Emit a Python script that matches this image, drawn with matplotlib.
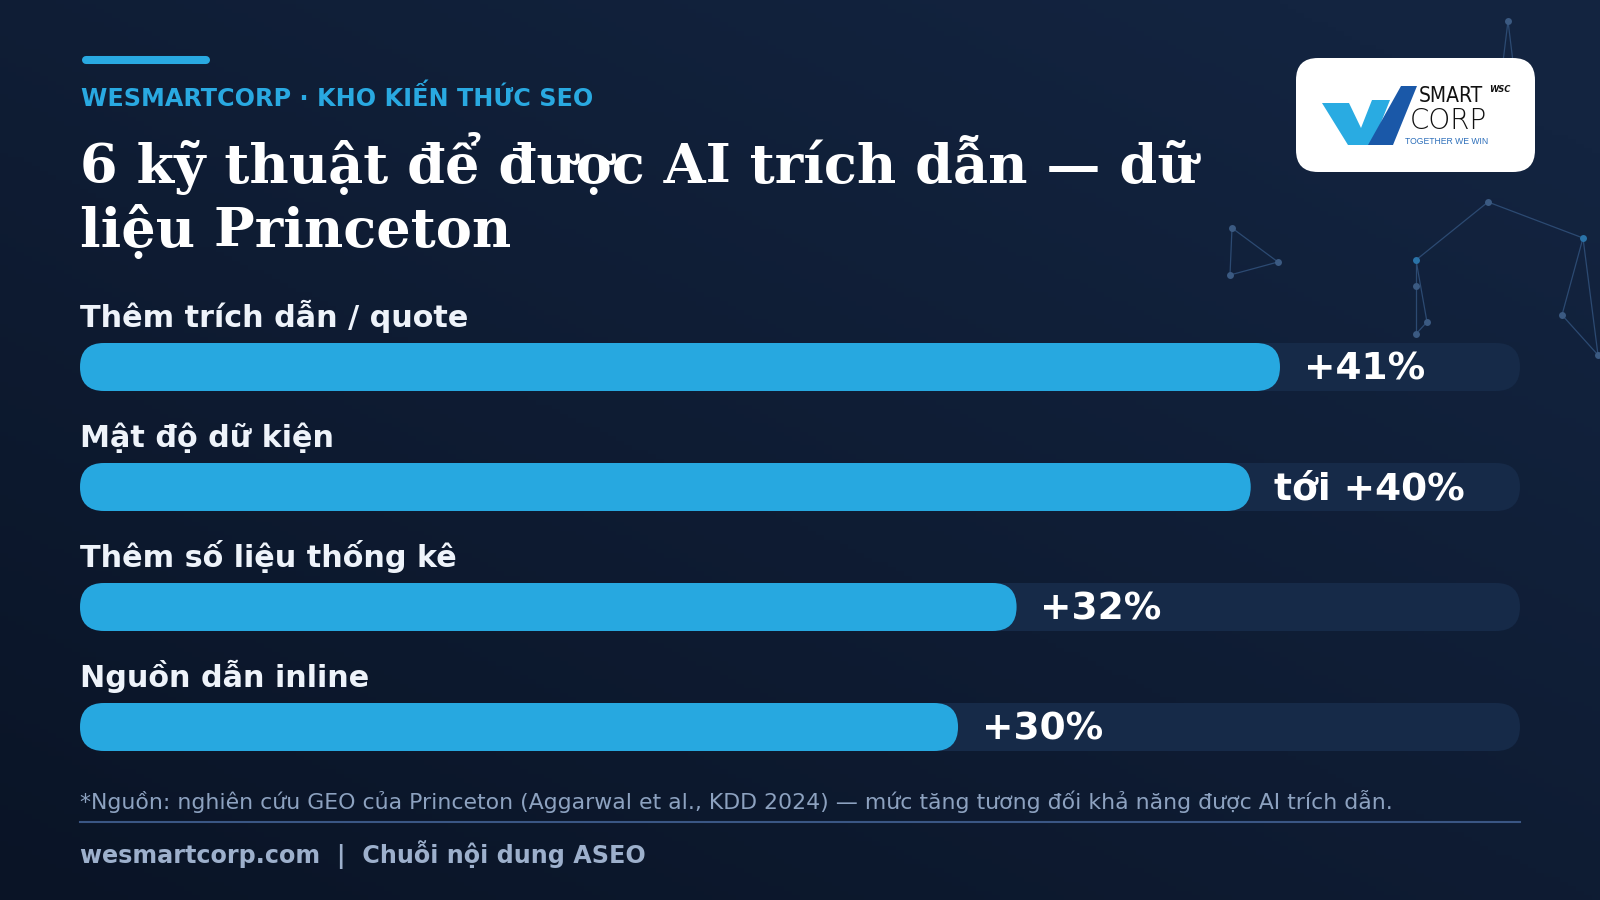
import numpy as np
import matplotlib.pyplot as plt
from matplotlib.patches import FancyBboxPatch, Polygon

# data
categories = ['Thêm trích dẫn / quote', 'Mật độ dữ kiện', 'Thêm số liệu thống kê', 'Nguồn dẫn inline']
values = [41, 40, 32, 30]
value_labels = ['+41%', 'tới +40%', '+32%', '+30%']

eyebrow = 'WESMARTCORP · KHO KIẾN THỨC SEO'
title = '6 kỹ thuật để được AI trích dẫn — dữ\nliệu Princeton'
footnote = ('*Nguồn: nghiên cứu GEO của Princeton (Aggarwal et al., KDD 2024) — '
            'mức tăng tương đối khả năng được AI trích dẫn.')
footer = 'wesmartcorp.com  |  Chuỗi nội dung ASEO'

# colours
bar_c = '#27a8e0'
track_c = '#162a48'
accent = '#29a9e1'

W, H = 1600, 900
fig = plt.figure(figsize=(16, 9), dpi=100)

# background gradient (lighter top-right, darker bottom-left)
bg = fig.add_axes([0, 0, 1, 1])
yy, xx = np.mgrid[0:1:200j, 0:1:200j]
t = np.clip(0.6 * yy + 0.5 * (1 - xx) - 0.1, 0, 1)
top = np.array([0x13, 0x24, 0x40]) / 255
bot = np.array([0x0a, 0x14, 0x26]) / 255
bg.imshow(top + (bot - top) * t[..., None], extent=[0, W, H, 0], aspect='auto')
bg.set_xlim(0, W)
bg.set_ylim(H, 0)
bg.axis('off')

# network decoration, top right
nodes = {'a': (1508, 21), 'b': (1232, 228), 'c': (1278, 262), 'd': (1230, 275),
         'e': (1488, 202), 'f': (1583, 238), 'g': (1416, 260), 'h': (1416, 286),
         'i': (1427, 322), 'j': (1416, 334), 'k': (1562, 315), 'l': (1598, 355)}
edges = [('b', 'c'), ('c', 'd'), ('d', 'b'), ('g', 'e'), ('e', 'f'), ('f', 'k'),
         ('k', 'l'), ('f', 'l'), ('g', 'i'), ('i', 'j'), ('h', 'j'), ('g', 'h')]
for p, q in edges:
    bg.plot([nodes[p][0], nodes[q][0]], [nodes[p][1], nodes[q][1]],
            color='#2c4a72', lw=0.9, zorder=2)
bg.plot([1508, 1502], [21, 70], color='#2c4a72', lw=0.9, zorder=2)
bg.plot([1508, 1514], [21, 70], color='#2c4a72', lw=0.9, zorder=2)
for k, (x, y) in nodes.items():
    col = '#2a73a8' if k in ('g', 'f') else '#3b5a82'
    bg.plot(x, y, 'o', ms=5, color=col, mec='none', zorder=3)

# header accent bar
bg.plot([86, 206], [60, 60], color=accent, lw=5.8, solid_capstyle='round', zorder=4)
bg.text(81, 106, eyebrow, color=accent, fontsize=17.2, fontweight='bold',
        family='DejaVu Sans', va='baseline', ha='left', zorder=4)
# baseline of a multi-line text is the last line
bg.text(80, 247, title, color='white', fontsize=39, fontweight='bold',
        family='DejaVu Serif', va='baseline', ha='left', linespacing=1.2, zorder=4)

# logo card
bg.add_patch(FancyBboxPatch((1296, 58), 239, 114, boxstyle='round,pad=0,rounding_size=22',
                            fc='white', ec='none', zorder=4))
bg.add_patch(Polygon([(1322, 103), (1349, 103), (1361, 128), (1372, 100), (1390, 100),
                      (1372, 145), (1348, 145)],
                     closed=True, fc='#29abe2', ec='none', zorder=5))
bg.add_patch(Polygon([(1368, 145), (1393, 145), (1417, 86), (1401, 86)],
                     closed=True, fc='#1a58a8', ec='none', zorder=5))
bg.text(1419, 96, 'SMART', color='#111111', fontsize=15, fontweight='light',
        family='DejaVu Sans', fontstretch='condensed', va='center', ha='left', zorder=6)
bg.text(1410, 121, 'CORP', color='#111111', fontsize=20, fontweight='light',
        family='DejaVu Sans', va='center', ha='left', zorder=6)
bg.text(1489, 89, 'WSC', color='#111111', fontsize=6, fontweight='bold', style='italic',
        family='DejaVu Sans', va='center', ha='left', zorder=6)
bg.text(1405, 142, 'TOGETHER WE WIN', color='#2d6fba', fontsize=6.2,
        family='Liberation Sans', va='center', ha='left', zorder=6)

# bars
ax = fig.add_axes([80 / W, 140 / H, 1440 / W, 460 / H])
ax.patch.set_alpha(0)
vmax = max(values) * 1.2
ax.set_xlim(0, vmax)
ax.set_ylim(460, 0)
ax.axis('off')
pxx = 1440 / vmax
r = 24 / pxx
for i, (cat, v, lab) in enumerate(zip(categories, values, value_labels)):
    yc = 67 + 120 * i
    ax.add_patch(FancyBboxPatch((0, yc - 24), vmax, 48,
                                boxstyle=f'round,pad=0,rounding_size={r}',
                                mutation_aspect=pxx, fc=track_c, ec='none'))
    ax.add_patch(FancyBboxPatch((0, yc - 24), v, 48,
                                boxstyle=f'round,pad=0,rounding_size={r}',
                                mutation_aspect=pxx, fc=bar_c, ec='none'))
    ax.text(0, yc - 40, cat, color='#eef3fa', fontsize=21.8, fontweight='bold',
            family='DejaVu Sans', va='baseline', ha='left')
    ax.annotate(lab, (v, yc + 12.5), xytext=(17, 0), textcoords='offset points',
                color='white', fontsize=27, fontweight='bold', family='DejaVu Sans',
                va='baseline', ha='left')

# footnote, rule, footer
bg.text(80, 809, footnote, color='#8da2c0', fontsize=15.8, family='DejaVu Sans',
        va='baseline', ha='left', zorder=4)
bg.plot([80, 1520], [822, 822], color='#3a5684', lw=1.5, zorder=4)
bg.text(80, 863, footer, color='#9db0cc', fontsize=17.2, fontweight='bold',
        family='DejaVu Sans', va='baseline', ha='left', zorder=4)

fig.savefig('out.png', dpi=100)
